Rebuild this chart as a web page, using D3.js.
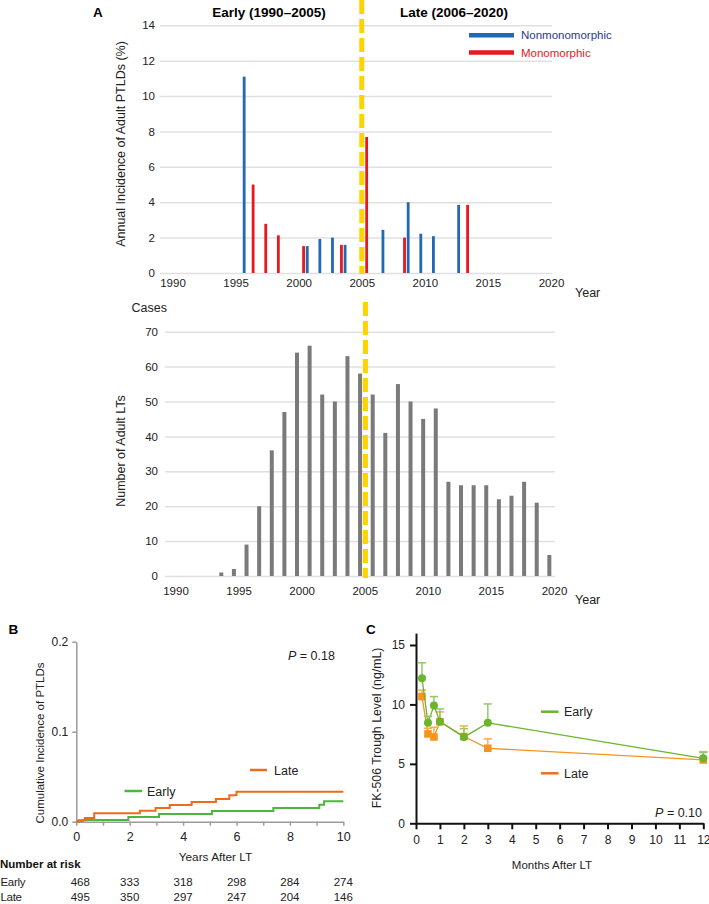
<!DOCTYPE html>
<html><head><meta charset="utf-8">
<script src="https://cdn.jsdelivr.net/npm/d3@7"></script>
<style>
body{margin:0;background:#fff;}
svg{font-family:"Liberation Sans", Arial, Helvetica, sans-serif;}
</style></head><body>
<svg id="c" width="709" height="904"></svg>
<script>
// ---------- DATA ----------
// Panel A (top): annual incidence of adult PTLDs (%)
const yearTicks = [1990, 1995, 2000, 2005, 2010, 2015, 2020];
const incidenceTicks = [0, 2, 4, 6, 8, 10, 12, 14];
const nonmonoYears = [1996, 2001, 2002, 2003, 2004, 2007, 2009, 2010, 2011, 2013];
const nonmonoValues = [11.1, 1.52, 1.92, 2.0, 1.59, 2.44, 4.0, 2.22, 2.08, 3.85];
const monoYears = [1997, 1998, 1999, 2001, 2004, 2006, 2009, 2014];
const monoValues = [5.0, 2.78, 2.13, 1.52, 1.59, 7.69, 2.0, 3.85];
const eraBoundary = [2005];
const eraTitles = ["Early (1990\u20132005)", "Late (2006\u20132020)"];
const legendA = ["Nonmonomorphic", "Monomorphic"];

// Panel A (bottom): number of adult LTs
const ltYears = [1994, 1995, 1996, 1997, 1998, 1999, 2000, 2001, 2002, 2003, 2004, 2005, 2006, 2007,
  2008, 2009, 2010, 2011, 2012, 2013, 2014, 2015, 2016, 2017, 2018, 2019, 2020];
const ltCases = [1, 2, 9, 20, 36, 47, 64, 66, 52, 50, 63, 58, 52, 41,
  55, 50, 45, 48, 27, 26, 26, 26, 22, 23, 27, 21, 6];
const caseTicks = [0, 10, 20, 30, 40, 50, 60, 70];

// Panel B: cumulative incidence of PTLDs (step curves)
const lateTimes = [0, 0.09, 0.32, 0.67, 2.38, 2.97, 3.5, 4.32, 5.23, 5.73, 6.0, 10];
const lateCI = [0, 0.0015, 0.004, 0.0093, 0.0122, 0.0152, 0.0185, 0.0219, 0.0252, 0.0293, 0.0333, 0.0333];
const earlyTimes = [0, 0.07, 0.24, 1.95, 3.1, 5.08, 7.38, 9.1, 9.28, 10];
const earlyCI = [0, 0.0007, 0.0019, 0.0052, 0.0085, 0.0119, 0.0152, 0.0189, 0.0226, 0.0226];
const ciTicks = [0, 0.1, 0.2];
const yearsTicks = [0, 1, 2, 3, 4, 5, 6, 7, 8, 9, 10];
const riskTimes = [0, 2, 4, 6, 8, 10];
const riskEarly = [468, 333, 318, 298, 284, 274];
const riskLate = [495, 350, 297, 247, 204, 146];

// Panel C: FK-506 trough level
const months = [0.25, 0.5, 0.75, 1, 2, 3, 12];
const earlyMean = [12.2, 8.45, 9.9, 8.55, 7.25, 8.45, 5.47];
const earlyUpper = [13.5, 9.0, 10.66, 9.62, 7.96, 10.04, 5.95];
const lateMean = [10.66, 7.52, 7.26, 8.55, 7.3, 6.31, 5.33];
const lateUpper = [11.2, 8.0, 8.08, 9.37, 8.19, 7.1, 6.03];
const fkTicks = [0, 5, 10, 15];
const monthTicks = [0, 1, 2, 3, 4, 5, 6, 7, 8, 9, 10, 11, 12];

// ---------- STYLE ----------
const FONT = '"Liberation Sans", Arial, Helvetica, sans-serif';
const BLUE = "#2268b5", RED = "#e5191f", YELLOW = "#fdd400", GRID = "#e0e0e0", GRAYBAR = "#7a7a7a";
const B_ORANGE = "#ee6b1e", B_GREEN = "#4db63f";
const C_ORANGE = "#f7941d", C_GREEN = "#6cb42d";

const svg = d3.select("#c");
svg.append("rect").attr("width", 709).attr("height", 904).attr("fill", "#fff");

function styleAxis(g, fs, color) {
  g.attr("font-family", FONT).attr("font-size", fs);
  g.selectAll(".tick text").attr("fill", color || "#222");
}

// ===== Panel A top =====
const xTop = d3.scaleLinear().domain([1990, 2020]).range([172.5, 551]);
const yTop = d3.scaleLinear().domain([0, 14]).range([273, 25.3]);

const gTopY = svg.append("g").attr("transform", "translate(160,0)")
  .call(d3.axisLeft(yTop).tickValues(incidenceTicks).tickSize(-392).tickPadding(5));
gTopY.select(".domain").remove();
gTopY.selectAll(".tick line").attr("stroke", GRID).attr("stroke-width", 1.5);
styleAxis(gTopY, 11.5);

const gTopX = svg.append("g").attr("transform", "translate(0,273)")
  .call(d3.axisBottom(xTop).tickValues(yearTicks).tickFormat(d3.format("d")).tickSize(0).tickPadding(6));
gTopX.select(".domain").remove();
styleAxis(gTopX, 11.5);

svg.append("g").selectAll("rect").data(nonmonoYears.map((y, i) => ({ y, v: nonmonoValues[i] })))
  .join("rect")
  .attr("x", d => xTop(d.y - 0.32) - 1.4).attr("width", 2.8)
  .attr("y", d => yTop(d.v)).attr("height", d => yTop(0) - yTop(d.v))
  .attr("fill", BLUE);
svg.append("g").selectAll("rect").data(monoYears.map((y, i) => ({ y, v: monoValues[i] })))
  .join("rect")
  .attr("x", d => xTop(d.y - 0.61) - 1.4).attr("width", 2.8)
  .attr("y", d => yTop(d.v)).attr("height", d => yTop(0) - yTop(d.v))
  .attr("fill", RED);

svg.append("line").attr("x1", xTop(eraBoundary[0])).attr("x2", xTop(eraBoundary[0]))
  .attr("y1", 0).attr("y2", 274).attr("stroke", YELLOW).attr("stroke-width", 5)
  .attr("stroke-dasharray", "14,5");

svg.append("text").attr("x", 93).attr("y", 17).attr("font-family", FONT).attr("font-weight", "bold")
  .attr("font-size", 13.5).text("A");
svg.append("text").attr("x", 269).attr("y", 17).attr("text-anchor", "middle").attr("font-family", FONT)
  .attr("font-weight", "bold").attr("font-size", 13.5).text(eraTitles[0]);
svg.append("text").attr("x", 454).attr("y", 17).attr("text-anchor", "middle").attr("font-family", FONT)
  .attr("font-weight", "bold").attr("font-size", 13.5).text(eraTitles[1]);

svg.append("text").attr("transform", "translate(125,144) rotate(-90)").attr("text-anchor", "middle")
  .attr("font-family", FONT).attr("font-size", 12.5).attr("fill", "#222")
  .text("Annual Incidence of Adult PTLDs (%)");
svg.append("text").attr("x", 575).attr("y", 297).attr("font-family", FONT).attr("font-size", 12.5)
  .attr("fill", "#222").text("Year");

// legend
const legColors = [BLUE, RED], legTextColors = ["#2b3990", RED], legY = [35.3, 52.5];
legendA.forEach((t, i) => {
  svg.append("line").attr("x1", 469).attr("x2", 514).attr("y1", legY[i]).attr("y2", legY[i])
    .attr("stroke", legColors[i]).attr("stroke-width", 4.5);
  svg.append("text").attr("x", 521).attr("y", legY[i] + 4).attr("font-family", FONT)
    .attr("font-size", 11.5).attr("fill", legTextColors[i]).text(t);
});

// ===== Panel A bottom =====
const xBot = d3.scaleLinear().domain([1990, 2020]).range([175.5, 554]);
const yBot = d3.scaleLinear().domain([0, 70]).range([576, 331.7]);

const gBotY = svg.append("g").attr("transform", "translate(165,0)")
  .call(d3.axisLeft(yBot).tickValues(caseTicks).tickSize(-390).tickPadding(7));
gBotY.select(".domain").remove();
gBotY.selectAll(".tick line").attr("stroke", GRID).attr("stroke-width", 1.5);
styleAxis(gBotY, 11.5);

const gBotX = svg.append("g").attr("transform", "translate(0,576)")
  .call(d3.axisBottom(xBot).tickValues(yearTicks).tickFormat(d3.format("d")).tickSize(0).tickPadding(10.5));
gBotX.select(".domain").remove();
styleAxis(gBotX, 11.5);

svg.append("g").selectAll("rect").data(ltYears.map((y, i) => ({ y, v: ltCases[i] })))
  .join("rect")
  .attr("x", d => xBot(d.y - 0.37) - 2).attr("width", 4)
  .attr("y", d => yBot(d.v)).attr("height", d => yBot(0) - yBot(d.v))
  .attr("fill", GRAYBAR);

svg.append("line").attr("x1", xBot(eraBoundary[0]) + 0.7).attr("x2", xBot(eraBoundary[0]) + 0.7)
  .attr("y1", 302).attr("y2", 578).attr("stroke", YELLOW).attr("stroke-width", 5)
  .attr("stroke-dasharray", "14,5");

svg.append("text").attr("x", 131.5).attr("y", 311.5).attr("font-family", FONT).attr("font-size", 12.5)
  .attr("fill", "#222").text("Cases");
svg.append("text").attr("transform", "translate(125,451) rotate(-90)").attr("text-anchor", "middle")
  .attr("font-family", FONT).attr("font-size", 12.5).attr("fill", "#222").text("Number of Adult LTs");
svg.append("text").attr("x", 575).attr("y", 604).attr("font-family", FONT).attr("font-size", 12.5)
  .attr("fill", "#222").text("Year");

// ===== Panel B =====
const xB = d3.scaleLinear().domain([0, 10]).range([76.3, 343.3]);
const yB = d3.scaleLinear().domain([0, 0.2]).range([821.7, 641.7]);

const gBY = svg.append("g").attr("transform", "translate(76.3,0)")
  .call(d3.axisLeft(yB).tickValues(ciTicks).tickFormat(d3.format(".1f")).tickSize(4).tickSizeOuter(0).tickPadding(4));
gBY.selectAll("path,line").attr("stroke", "#9c9c9c").attr("stroke-width", 1.5);
styleAxis(gBY, 12);

const gBX = svg.append("g").attr("transform", "translate(0,821.7)")
  .call(d3.axisBottom(xB).tickValues(yearsTicks).tickFormat(d => d % 2 === 0 ? d : "").tickSize(4).tickSizeOuter(0).tickPadding(6.5));
gBX.selectAll("path,line").attr("stroke", "#9c9c9c").attr("stroke-width", 1.5);
styleAxis(gBX, 12.5);

const stepLine = d3.line().x(d => xB(d[0])).y(d => yB(d[1])).curve(d3.curveStepAfter);
svg.append("path").attr("d", stepLine(earlyTimes.map((t, i) => [t, earlyCI[i]])))
  .attr("fill", "none").attr("stroke", B_GREEN).attr("stroke-width", 2);
svg.append("path").attr("d", stepLine(lateTimes.map((t, i) => [t, lateCI[i]])))
  .attr("fill", "none").attr("stroke", B_ORANGE).attr("stroke-width", 2);

svg.append("text").attr("x", 8.5).attr("y", 634).attr("font-family", FONT).attr("font-weight", "bold")
  .attr("font-size", 13.5).text("B");
svg.append("text").attr("transform", "translate(44,743) rotate(-90)").attr("text-anchor", "middle")
  .attr("font-family", FONT).attr("font-size", 11.5).attr("fill", "#222").text("Cumulative Incidence of PTLDs");
svg.append("text").attr("x", 215.5).attr("y", 861).attr("text-anchor", "middle").attr("font-family", FONT)
  .attr("font-size", 11.8).attr("fill", "#222").text("Years After LT");
const pB = svg.append("text").attr("x", 288).attr("y", 660).attr("font-family", FONT).attr("font-size", 12.5).attr("fill", "#222");
pB.append("tspan").attr("font-style", "italic").text("P");
pB.append("tspan").text(" = 0.18");

// legend B
svg.append("line").attr("x1", 250).attr("x2", 267).attr("y1", 770).attr("y2", 770).attr("stroke", B_ORANGE).attr("stroke-width", 2.5);
svg.append("text").attr("x", 274).attr("y", 774.5).attr("font-family", FONT).attr("font-size", 12.5).attr("fill", "#222").text("Late");
svg.append("line").attr("x1", 124.5).attr("x2", 142).attr("y1", 791).attr("y2", 791).attr("stroke", B_GREEN).attr("stroke-width", 2.5);
svg.append("text").attr("x", 147).attr("y", 795.5).attr("font-family", FONT).attr("font-size", 12.5).attr("fill", "#222").text("Early");

// number at risk
svg.append("text").attr("x", 0).attr("y", 868).attr("font-family", FONT).attr("font-weight", "bold")
  .attr("font-size", 11.5).attr("fill", "#111").text("Number at risk");
const riskRows = [["Early", riskEarly, 885.8], ["Late", riskLate, 900.8]];
riskRows.forEach(([name, vals, yy]) => {
  svg.append("text").attr("x", 0.5).attr("y", yy).attr("font-family", FONT).attr("font-size", 11.5)
    .attr("fill", "#222").attr("letter-spacing", -0.3).text(name);
  svg.append("g").selectAll("text").data(riskTimes.map((t, i) => ({ t, v: vals[i] }))).join("text")
    .attr("x", d => xB(d.t) + (d.t === 0 ? 4 : 0)).attr("y", yy).attr("text-anchor", "middle")
    .attr("font-family", FONT).attr("font-size", 11.5).attr("fill", "#222").text(d => d.v);
});

// ===== Panel C =====
const xC = d3.scaleLinear().domain([0, 12]).range([416, 703.3]);
const yC = d3.scaleLinear().domain([0, 16]).range([823.3, 633.1]);

const gCY = svg.append("g").attr("transform", "translate(416,0)")
  .call(d3.axisLeft(yC).tickValues(fkTicks).tickSize(6).tickSizeOuter(0).tickPadding(5));
gCY.selectAll("path,line").attr("stroke", "#111").attr("stroke-width", 2);
styleAxis(gCY, 12);

const gCX = svg.append("g").attr("transform", "translate(0,823.3)")
  .call(d3.axisBottom(xC).tickValues(monthTicks).tickSize(6).tickSizeOuter(0).tickPadding(6));
gCX.selectAll("path,line").attr("stroke", "#111").attr("stroke-width", 2);
styleAxis(gCX, 12);

function drawSeries(mean, upper, color, errColor, shape) {
  const pts = months.map((m, i) => ({ m, v: mean[i], u: upper[i] }));
  svg.append("path").attr("d", d3.line().x(d => xC(d.m)).y(d => yC(d.v))(pts))
    .attr("fill", "none").attr("stroke", color).attr("stroke-width", 1.3);
  const eg = svg.append("g").attr("stroke", errColor).attr("stroke-width", 1.5);
  eg.selectAll("line.s").data(pts).join("line").attr("class", "s")
    .attr("x1", d => xC(d.m)).attr("x2", d => xC(d.m)).attr("y1", d => yC(d.v)).attr("y2", d => yC(d.u));
  eg.selectAll("line.c").data(pts).join("line").attr("class", "c")
    .attr("x1", d => xC(d.m) - 4.2).attr("x2", d => xC(d.m) + 4.2).attr("y1", d => yC(d.u)).attr("y2", d => yC(d.u));
  if (shape === "square") {
    svg.append("g").selectAll("rect").data(pts).join("rect")
      .attr("x", d => xC(d.m) - 3.8).attr("y", d => yC(d.v) - 3.8).attr("width", 7.6).attr("height", 7.6)
      .attr("fill", color);
  } else {
    svg.append("g").selectAll("circle").data(pts).join("circle")
      .attr("cx", d => xC(d.m)).attr("cy", d => yC(d.v)).attr("r", 4).attr("fill", color);
  }
}
drawSeries(lateMean, lateUpper, C_ORANGE, "#f8ab55", "square");
drawSeries(earlyMean, earlyUpper, C_GREEN, "#93c96a", "circle");

svg.append("text").attr("x", 366).attr("y", 634).attr("font-family", FONT).attr("font-weight", "bold")
  .attr("font-size", 13.5).text("C");
svg.append("text").attr("transform", "translate(381,728) rotate(-90)").attr("text-anchor", "middle")
  .attr("font-family", FONT).attr("font-size", 12.3).attr("fill", "#222").text("FK-506 Trough Level (ng/mL)");
svg.append("text").attr("x", 552).attr("y", 869).attr("text-anchor", "middle").attr("font-family", FONT)
  .attr("font-size", 11.5).attr("fill", "#222").text("Months After LT");
const pC = svg.append("text").attr("x", 702).attr("y", 816.5).attr("text-anchor", "end").attr("font-family", FONT)
  .attr("font-size", 12.5).attr("fill", "#222");
pC.append("tspan").attr("font-style", "italic").text("P");
pC.append("tspan").text(" = 0.10");

svg.append("line").attr("x1", 541).attr("x2", 558.5).attr("y1", 711.7).attr("y2", 711.7).attr("stroke", C_GREEN).attr("stroke-width", 2.5);
svg.append("text").attr("x", 564).attr("y", 716).attr("font-family", FONT).attr("font-size", 12.5).attr("fill", "#222").text("Early");
svg.append("line").attr("x1", 541).attr("x2", 558.5).attr("y1", 773.3).attr("y2", 773.3).attr("stroke", "#f26d21").attr("stroke-width", 2.5);
svg.append("text").attr("x", 564).attr("y", 778).attr("font-family", FONT).attr("font-size", 12.5).attr("fill", "#222").text("Late");
</script>
</body></html>
